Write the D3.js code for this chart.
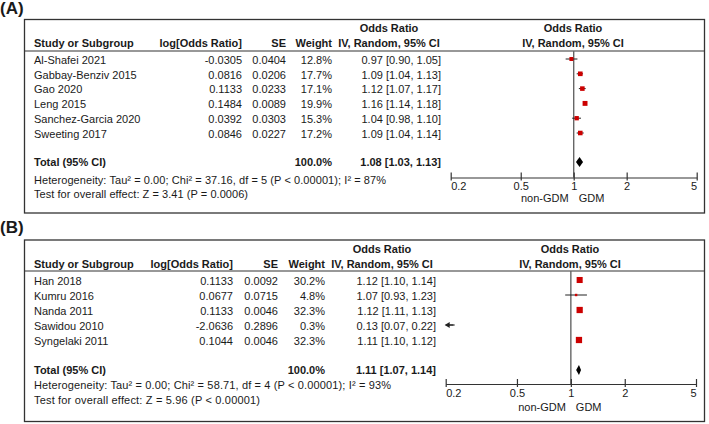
<!DOCTYPE html>
<html><head><meta charset="utf-8">
<script src="https://cdn.jsdelivr.net/npm/d3@7"></script>
<style>
html,body{margin:0;padding:0;background:#fff;}
svg{display:block;}
text{font-family:"Liberation Sans",Arial,sans-serif;fill:#1a1a1a;}
</style></head><body>
<svg id="c" width="709" height="424"></svg>
<script>
// ---------- data ----------
const studiesA = ["Al-Shafei 2021","Gabbay-Benziv 2015","Gao 2020","Leng 2015","Sanchez-Garcia 2020","Sweeting 2017"];
const logOrA = ["-0.0305","0.0816","0.1133","0.1484","0.0392","0.0846"];
const seA = ["0.0404","0.0206","0.0233","0.0089","0.0303","0.0227"];
const weightA = [12.8,17.7,17.1,19.9,15.3,17.2];
const orA = [0.97,1.09,1.12,1.16,1.04,1.09];
const loA = [0.90,1.04,1.07,1.14,0.98,1.04];
const hiA = [1.05,1.13,1.17,1.18,1.10,1.14];
const totalA = [1.08,1.03,1.13];
const hetA = "Heterogeneity: Tau\u00b2 = 0.00; Chi\u00b2 = 37.16, df = 5 (P < 0.00001); I\u00b2 = 87%";
const testA = "Test for overall effect: Z = 3.41 (P = 0.0006)";

const studiesB = ["Han 2018","Kumru 2016","Nanda 2011","Sawidou 2010","Syngelaki 2011"];
const logOrB = ["0.1133","0.0677","0.1133","-2.0636","0.1044"];
const seB = ["0.0092","0.0715","0.0046","0.2896","0.0046"];
const weightB = [30.2,4.8,32.3,0.3,32.3];
const orB = [1.12,1.07,1.12,0.13,1.11];
const loB = [1.10,0.93,1.11,0.07,1.10];
const hiB = [1.14,1.23,1.13,0.22,1.12];
const totalB = [1.11,1.07,1.14];
const hetB = "Heterogeneity: Tau\u00b2 = 0.00; Chi\u00b2 = 58.71, df = 4 (P < 0.00001); I\u00b2 = 93%";
const testB = "Test for overall effect: Z = 5.96 (P < 0.00001)";

const tickValues = [0.2,0.5,1,2,5];
const favLeft = "non-GDM", favRight = "GDM";

// ---------- layout ----------
const svg = d3.select("#c");
const FS = 11;

function fmt(v){return v.toFixed(2);}
function ciText(o,l,h){return fmt(o)+" ["+fmt(l)+", "+fmt(h)+"]";}

function panel(cfg){
  const g = svg.append("g");
  g.append("text").attr("x",0).attr("y",cfg.labelY).attr("font-size",17).attr("font-weight","bold").text(cfg.label);
  g.append("rect").attr("x",24.5).attr("y",cfg.top).attr("width",680).attr("height",cfg.bottom-cfg.top)
    .attr("fill","none").attr("stroke","#333").attr("stroke-width",1.3);
  g.append("line").attr("x1",24.5).attr("x2",704.5).attr("y1",cfg.hl).attr("y2",cfg.hl).attr("stroke","#333").attr("stroke-width",1.2);

  const t = (x,y,s,anchor,bold)=>g.append("text").attr("x",x).attr("y",y).attr("dy","0.35em")
      .attr("font-size",FS).attr("text-anchor",anchor||"start").attr("font-weight",bold?"bold":"normal").text(s);

  // headers
  t(cfg.orC,cfg.h1,"Odds Ratio","middle",true);
  t(cfg.orC,cfg.h2,"IV, Random, 95% CI","middle",true);
  t(cfg.plotC,cfg.h1,"Odds Ratio","middle",true);
  t(cfg.plotC,cfg.h2,"IV, Random, 95% CI","middle",true);
  t(34,cfg.h2,"Study or Subgroup","start",true);
  t(cfg.cLog,cfg.h2,"log[Odds Ratio]","end",true);
  t(cfg.cSe,cfg.h2,"SE","end",true);
  t(cfg.cW,cfg.h2,"Weight","end",true);

  const ry = i => cfg.r0 + i*cfg.step;
  cfg.studies.forEach((s,i)=>{
    t(34,ry(i),s);
    t(cfg.cLog,ry(i),cfg.logOr[i],"end");
    t(cfg.cSe,ry(i),cfg.se[i],"end");
    t(cfg.cW,ry(i),cfg.w[i].toFixed(1)+"%","end");
    t(cfg.cOr,ry(i),ciText(cfg.or[i],cfg.lo[i],cfg.hi[i]),"end");
  });
  t(34,cfg.totY,"Total (95% CI)","start",true);
  t(cfg.cW,cfg.totY,"100.0%","end",true);
  t(cfg.cOr,cfg.totY,ciText(cfg.tot[0],cfg.tot[1],cfg.tot[2]),"end",true);
  t(34,cfg.hetY,cfg.het).attr("textLength",cfg.hetW).attr("lengthAdjust","spacing");
  t(34,cfg.testY,cfg.test).attr("textLength",cfg.testW).attr("lengthAdjust","spacing");

  // forest
  const x = d3.scaleLog().domain([0.2,5]).range([cfg.xL,cfg.xR]);
  g.append("line").attr("x1",x(1)).attr("x2",x(1)).attr("y1",cfg.hl).attr("y2",cfg.axY)
    .attr("stroke","#666").attr("stroke-width",1.4);

  const ax = g.append("g").attr("transform",`translate(0,${cfg.axY})`)
    .call(d3.axisBottom(x).tickValues(tickValues).tickSize(0).tickFormat(d=>String(d)));
  ax.select(".domain").attr("stroke","#333").attr("stroke-width",1.2);
  ax.selectAll(".tick line").remove();
  ax.selectAll(".tick").append("line").attr("y1",-5).attr("y2",3).attr("stroke","#333").attr("stroke-width",1.2);
  ax.selectAll(".tick text").attr("font-size",FS).attr("font-family",null).attr("fill","#1a1a1a")
    .attr("y",cfg.tickDy).attr("dy","0.35em")
    .attr("text-anchor",(d,i)=> i===0?"start":(i===tickValues.length-1?"end":"middle"));
  t(x(1)-5,cfg.favY,favLeft,"end");
  t(x(1)+5,cfg.favY,favRight,"start");

  cfg.studies.forEach((s,i)=>{
    const y = ry(i)-1;
    const l = Math.max(cfg.lo[i],0.2), h = Math.min(cfg.hi[i],5);
    if (h > 0.2) {
      g.append("line").attr("x1",x(l)).attr("x2",x(h)).attr("y1",y).attr("y2",y).attr("stroke","#222").attr("stroke-width",1);
    }
    if (cfg.lo[i] < 0.2) {
      g.append("path").attr("d",`M${x(0.2)-1},${y} l5,-3 l0,6 z`).attr("fill","#222");
      g.append("line").attr("x1",x(0.2)+3).attr("x2",x(Math.max(h,0.2))+1.5).attr("y1",y).attr("y2",y).attr("stroke","#222").attr("stroke-width",1.2);
    }
    if (cfg.or[i] >= 0.2 && cfg.or[i] <= 5) {
      const sz = 1.1*Math.sqrt(cfg.w[i]);
      g.append("rect").attr("x",x(cfg.or[i])-sz/2).attr("y",y-sz/2).attr("width",sz).attr("height",sz).attr("fill","#cc0000");
    }
  });
  const ty = cfg.totY, dh = 5;
  g.append("path").attr("d",`M${x(cfg.tot[1])},${ty} L${x(cfg.tot[0])},${ty-dh} L${x(cfg.tot[2])},${ty} L${x(cfg.tot[0])},${ty+dh} Z`).attr("fill","#000");
}

panel({label:"(A)",labelY:14,top:19.5,bottom:213,hl:51,h1:28,h2:43,r0:60,step:14.8,totY:162,hetY:180,testY:194,
  cLog:242,cSe:286,cW:332,cOr:441,orC:389,plotC:573,xL:450.7,xR:696.7,axY:177.5,tickDy:9,favY:198,hetW:352,testW:214,
  studies:studiesA,logOr:logOrA,se:seA,w:weightA,or:orA,lo:loA,hi:hiA,tot:totalA,het:hetA,test:testA});
panel({label:"(B)",labelY:233,top:240,bottom:421.5,hl:271,h1:249,h2:264,r0:281,step:15,totY:370,hetY:385,testY:400,
  cLog:233,cSe:278,cW:325,cOr:436,orC:382,plotC:570,xL:445.7,xR:696,axY:384,tickDy:9,favY:407,hetW:357,testW:226,
  studies:studiesB,logOr:logOrB,se:seB,w:weightB,or:orB,lo:loB,hi:hiB,tot:totalB,het:hetB,test:testB});
</script>
</body></html>
